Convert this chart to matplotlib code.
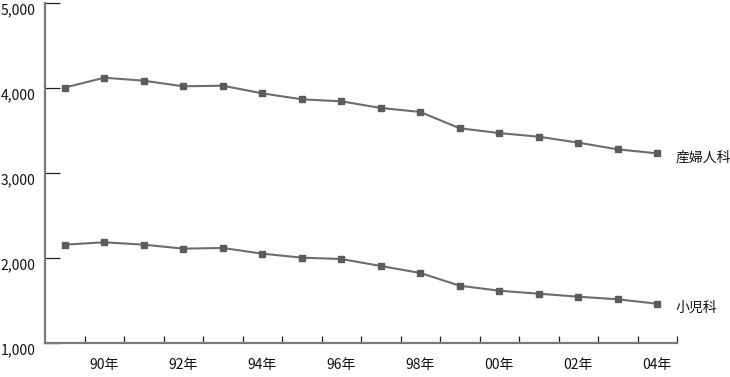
import matplotlib
matplotlib.use("Agg")
import matplotlib.pyplot as plt
from matplotlib.ticker import FixedLocator, FuncFormatter
from matplotlib.transforms import ScaledTranslation

plt.rcParams['font.family'] = ['Noto Sans CJK JP', 'DejaVu Sans']

years = list(range(1989, 2005))
obgyn = [4005, 4121, 4086, 4020, 4027, 3937, 3867, 3843, 3765, 3718,
         3526, 3470, 3427, 3357, 3278, 3231]
pediatrics = [2157, 2185, 2157, 2110, 2118, 2051, 2004, 1988, 1906, 1824,
              1674, 1615, 1580, 1545, 1514, 1462]
series_names = ['産婦人科', '小児科']
tick_labels = ['90年', '92年', '94年', '96年', '98年', '00年', '02年', '04年']
yticks = [1000, 2000, 3000, 4000, 5000]

fig = plt.figure(figsize=(7.30, 3.77), dpi=100)
ax = fig.add_axes([45/730, 1-343/377, (677-45)/730, (343-3)/377])

xs = list(range(len(years)))
line_c = '#6c6c6c'
mark_c = '#5c5c5c'
for vals, name in zip([obgyn, pediatrics], series_names):
    ax.plot(xs, vals, color=line_c, lw=1.5, marker='s', ms=5,
            mfc=mark_c, mec=mark_c, zorder=3)
    ax.annotate(name, (xs[-1], vals[-1]), xytext=(13, -3),
                textcoords='offset points', va='center', ha='left',
                fontsize=10, color='#111111', annotation_clip=False)

ax.set_xlim(-0.5, len(years) - 0.5)
ax.set_ylim(1000, 5000)

for s in ['top', 'right']:
    ax.spines[s].set_visible(False)
for s in ['left', 'bottom']:
    ax.spines[s].set_color('#7a7a7a')
    ax.spines[s].set_linewidth(1.6)

ax.set_yticks(yticks)
ax.yaxis.set_major_formatter(FuncFormatter(lambda v, p: f'{int(v):,}'))
ax.tick_params(axis='y', direction='in', length=11, width=0.9,
               color='#222222', pad=7, labelsize=10, labelcolor='#111111')
shift = ScaledTranslation(0, -6/100, fig.dpi_scale_trans)
for lbl in ax.get_yticklabels():
    lbl.set_transform(lbl.get_transform() + shift)

label_pos = [years.index(1990 + 2*i) for i in range(len(tick_labels))]
ax.set_xticks(label_pos)
ax.set_xticklabels(tick_labels)
ax.tick_params(axis='x', which='major', length=0, pad=11,
               labelsize=10, labelcolor='#111111')
ax.xaxis.set_minor_locator(FixedLocator([i + 0.5 for i in range(len(years))]))
ax.tick_params(axis='x', which='minor', direction='in', length=5, width=0.9,
               color='#222222')

fig.savefig('out.png', dpi=100)
